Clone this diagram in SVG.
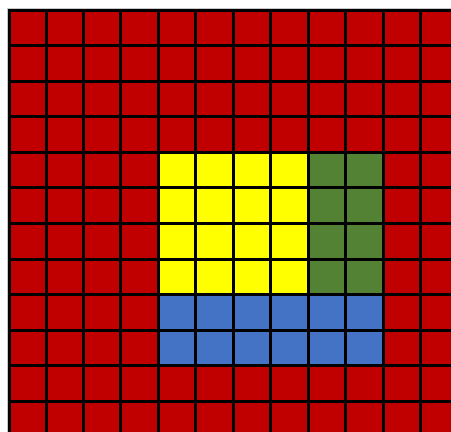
<svg xmlns="http://www.w3.org/2000/svg" width="451" height="432" viewBox="0 0 451 432">
<style>
.g line{stroke:#000;stroke-width:3}
.edge{stroke:#c8c8c8;stroke-width:1}
</style>
<rect x="0" y="0" width="451" height="432" fill="#fff"/>
<line class="edge" x1="7" y1="8.5" x2="451" y2="8.5"/>
<line class="edge" x1="7.5" y1="8" x2="7.5" y2="432"/>
<g id="red-field"><rect x="8" y="9" width="443" height="423" fill="#C00000"/></g>
<g id="yellow-block"><rect x="158.5" y="152.5" width="150" height="142" fill="#FFFF00"/></g>
<g id="green-block"><rect x="308.5" y="152.5" width="75" height="142" fill="#548235"/></g>
<g id="blue-block"><rect x="158.5" y="294.5" width="225" height="71" fill="#4472C4"/></g>
<g id="grid" class="g">
<line x1="9.5" y1="9" x2="9.5" y2="432"/>
<line x1="46.5" y1="9" x2="46.5" y2="432"/>
<line x1="83.5" y1="9" x2="83.5" y2="432"/>
<line x1="120.5" y1="9" x2="120.5" y2="432"/>
<line x1="158.5" y1="9" x2="158.5" y2="432"/>
<line x1="195.5" y1="9" x2="195.5" y2="432"/>
<line x1="233.5" y1="9" x2="233.5" y2="432"/>
<line x1="270.5" y1="9" x2="270.5" y2="432"/>
<line x1="308.5" y1="9" x2="308.5" y2="432"/>
<line x1="345.5" y1="9" x2="345.5" y2="432"/>
<line x1="383.5" y1="9" x2="383.5" y2="432"/>
<line x1="420.5" y1="9" x2="420.5" y2="432"/>
<line x1="8" y1="10.5" x2="451" y2="10.5"/>
<line x1="8" y1="45.5" x2="451" y2="45.5"/>
<line x1="8" y1="81.5" x2="451" y2="81.5"/>
<line x1="8" y1="116.5" x2="451" y2="116.5"/>
<line x1="8" y1="152.5" x2="451" y2="152.5"/>
<line x1="8" y1="187.5" x2="451" y2="187.5"/>
<line x1="8" y1="223.5" x2="451" y2="223.5"/>
<line x1="8" y1="259.5" x2="451" y2="259.5"/>
<line x1="8" y1="294.5" x2="451" y2="294.5"/>
<line x1="8" y1="330.5" x2="451" y2="330.5"/>
<line x1="8" y1="365.5" x2="451" y2="365.5"/>
<line x1="8" y1="401.5" x2="451" y2="401.5"/>
</g>
</svg>
